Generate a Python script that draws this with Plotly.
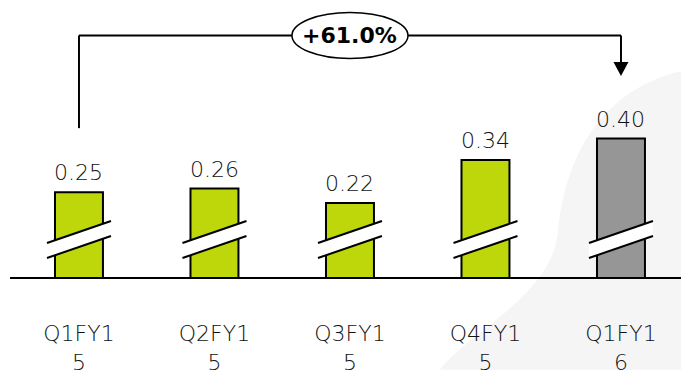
import plotly.graph_objects as go

# Quarterly values
quarters = ["Q1FY15", "Q2FY15", "Q3FY15", "Q4FY15", "Q1FY16"]
tick_labels = ["Q1FY1<br>5", "Q2FY1<br>5", "Q3FY1<br>5", "Q4FY1<br>5", "Q1FY1<br>6"]
values = [0.25, 0.26, 0.22, 0.34, 0.40]
value_labels = ["0.25", "0.26", "0.22", "0.34", "0.40"]
bar_colors = ["#bdd70b", "#bdd70b", "#bdd70b", "#bdd70b", "#969696"]
growth_label = "+61.0%"

W, H = 681, 375
ML, MR, MT, MB = 10, 0, 0, 94
plot_w = W - ML - MR
plot_h = H - MT - MB
FONT = "DejaVu Sans"
TEXT_COLOR = "#111111"


def px(x):
    """pixel x -> paper x"""
    return (x - ML) / plot_w


def py(y):
    """pixel y -> paper y"""
    return (H - MB - y) / plot_h


fig = go.Figure()
fig.add_trace(go.Bar(
    x=list(range(len(quarters))),
    y=values,
    width=0.354,
    marker=dict(color=bar_colors, line=dict(color="#000000", width=2)),
    hoverinfo="skip",
))

shapes = []
# faint background swirl on the right
shapes.append(dict(
    type="path", xref="paper", yref="paper", layer="below",
    path=("M {a},{b} C {c},{d} {e},{f} {g},{h} C {i},{j} {k},{l} {m},{n} L {o},{n} L {o},{b} Z").format(
        a=px(681), b=py(72), c=px(600), d=py(92), e=px(565), f=py(160), g=px(558), h=py(235),
        i=px(552), j=py(300), k=px(470), l=py(335), m=px(440), n=py(375), o=px(681)),
    fillcolor="#f5f5f5", line=dict(width=0),
))

# axis break marks on each bar
for i in range(len(quarters)):
    shapes.append(dict(
        type="path", xref="x", yref="paper", xsizemode="pixel", ysizemode="pixel",
        xanchor=i, yanchor=0,
        path="M -32,19 L 32,41 L 32,56 L -32,34 Z",
        fillcolor="#ffffff", line=dict(width=0),
    ))
    shapes.append(dict(
        type="path", xref="x", yref="paper", xsizemode="pixel", ysizemode="pixel",
        xanchor=i, yanchor=0,
        path="M -32,19 L 32,41 M -32,34 L 32,56",
        line=dict(color="#000000", width=2),
    ))

# growth bracket from first to last quarter
y_top = py(36)
shapes.append(dict(type="line", xref="x", yref="paper", x0=0, x1=0, y0=py(130), y1=y_top,
                   line=dict(color="#000000", width=2)))
shapes.append(dict(type="line", xref="x", yref="paper", x0=0, x1=4, y0=y_top, y1=y_top,
                   line=dict(color="#000000", width=2)))
shapes.append(dict(type="line", xref="x", yref="paper", x0=4, x1=4, y0=y_top, y1=py(64),
                   line=dict(color="#000000", width=2)))
shapes.append(dict(
    type="path", xref="x", yref="paper", xsizemode="pixel", ysizemode="pixel",
    xanchor=4, yanchor=py(77),
    path="M 0,0 L -7.5,14 L 7.5,14 Z",
    fillcolor="#000000", line=dict(width=0),
))
shapes.append(dict(
    type="circle", xref="x", yref="paper", xsizemode="pixel", ysizemode="pixel",
    xanchor=2, yanchor=y_top, x0=-58, x1=58, y0=-23, y1=23,
    fillcolor="#ffffff", line=dict(color="#000000", width=1.5),
))

annotations = [dict(
    x=2, y=y_top, xref="x", yref="paper", text="<b>" + growth_label + "</b>",
    showarrow=False, font=dict(family=FONT, size=22, color="#000000"),
    xanchor="center", yanchor="middle",
)]
for i, (v, lab) in enumerate(zip(values, value_labels)):
    annotations.append(dict(
        x=i, y=v, xref="x", yref="y", text=lab, showarrow=False,
        xanchor="center", yanchor="bottom", yshift=5,
        font=dict(family=FONT, size=22, color=TEXT_COLOR, weight=300),
    ))

fig.update_layout(
    width=W, height=H,
    margin=dict(l=ML, r=MR, t=MT, b=MB, pad=0),
    paper_bgcolor="#ffffff", plot_bgcolor="rgba(0,0,0,0)",
    showlegend=False,
    shapes=shapes, annotations=annotations,
    xaxis=dict(
        range=[-0.509, 4.443], tickmode="array",
        tickvals=list(range(len(quarters))), ticktext=tick_labels,
        showline=True, linecolor="#000000", linewidth=2,
        showgrid=False, zeroline=False, ticks="",
        ticklabelstandoff=36,
        tickfont=dict(family=FONT, size=22, color=TEXT_COLOR, weight=300),
    ),
    yaxis=dict(range=[0.013, 0.787], visible=False, showgrid=False, zeroline=False),
)

fig.write_html("out.html")
